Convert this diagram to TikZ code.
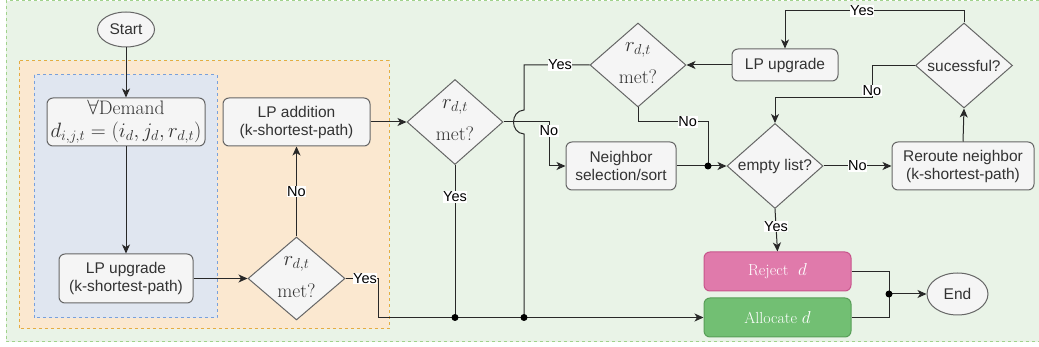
\documentclass[tikz,border=0pt]{standalone}
\usepackage{fontspec}
\newfontfamily\arialf{Liberation Sans}
\usetikzlibrary{arrows.meta,shapes.geometric}
\definecolor{bggreen}{RGB}{233,243,231}
\definecolor{bggreenline}{RGB}{160,210,140}
\definecolor{bgorange}{RGB}{251,232,208}
\definecolor{bgorangeline}{RGB}{228,172,66}
\definecolor{bgblue}{RGB}{224,230,240}
\definecolor{bgblueline}{RGB}{120,160,220}
\definecolor{boxfill}{RGB}{245,245,245}
\definecolor{boxline}{RGB}{102,102,102}
\definecolor{txt}{RGB}{51,51,51}
\definecolor{pinkfill}{RGB}{224,122,171}
\definecolor{pinkline}{RGB}{200,85,140}
\definecolor{greenfill}{RGB}{114,191,115}
\definecolor{greenline}{RGB}{88,158,88}
\definecolor{connc}{RGB}{40,40,40}
\begin{document}
\begin{tikzpicture}[x=1pt,y=-1pt,
  sfont/.style={font=\arialf\fontsize{15.5}{18}\selectfont},
  box/.style={draw=boxline, fill=boxfill, rounded corners=6pt, line width=1pt, text=txt, sfont, align=center, inner sep=0pt},
  dia/.style={draw=boxline, fill=boxfill, diamond, line width=1pt, inner sep=0pt},
  mtext/.style={font=\fontsize{19.5}{24}\selectfont, align=center, text=txt, inner sep=0pt},
  dtext/.style={sfont, text=txt, inner sep=0pt},
  ell/.style={draw=boxline, fill=boxfill, ellipse, line width=1pt, text=txt, sfont, inner sep=0pt},
  lbl/.style={fill=white, inner sep=0.6pt, font=\arialf\fontsize{14.5}{16}\selectfont, text=black},
  conn/.style={draw=connc, line width=1pt},
  arr/.style={conn, -{Stealth[length=9pt,width=8pt,inset=2.5pt]}},
  dot/.style={circle, fill=black, inner sep=0pt, minimum size=7pt},
  colbox/.style={rounded corners=6pt, line width=1pt, text=white, font=\fontsize{16}{19}\selectfont, inner sep=0pt, minimum width=147pt, minimum height=39pt},
]
\useasboundingbox (0,0) rectangle (1039,347);
% backgrounds
\fill[bggreen] (6,1) rectangle (1039,342);
\draw[bggreenline, line width=1pt, dash pattern=on 3pt off 3pt] (1039,1) -- (6,1) -- (6,342) -- (1039,342);
\draw[bgorangeline, fill=bgorange, line width=1pt, dash pattern=on 3pt off 3pt] (19,61) rectangle (389,329);
\draw[bgblueline, fill=bgblue, line width=1pt, dash pattern=on 3pt off 3pt] (34,75) rectangle (217,318);

% nodes
\node[ell, minimum width=57pt, minimum height=35pt] (start) at (126,29.5) {Start};
\node[box, font=\fontsize{19.5}{24}\selectfont, minimum width=158pt, minimum height=48pt] (demand) at (126,122) {$\forall$Demand\\[-1pt]$d_{i,j,t}=(i_d,j_d,r_{d,t})$};
\node[box, minimum width=134pt, minimum height=49pt] (lpup1) at (126,278.5) {LP upgrade\\(k-shortest-path)};
\node[box, minimum width=147pt, minimum height=48pt] (lpadd) at (296.5,122) {LP addition\\(k-shortest-path)};
\node[dia, minimum width=97pt, minimum height=83pt] (d1) at (296.5,278.5) {};
\node[mtext] (d1t) at (296.5,277) {$r_{d,t}$\\[8pt]met?};
\node[dia, minimum width=96pt, minimum height=85pt] (d2) at (455,122) {};
\node[mtext] (d2t) at (455,120.5) {$r_{d,t}$\\[8pt]met?};
\node[dia, minimum width=96pt, minimum height=84pt] (d3) at (638,65) {};
\node[mtext] (d3t) at (638,63.5) {$r_{d,t}$\\[8pt]met?};
\node[box, minimum width=110pt, minimum height=48pt] (neigh) at (621,166) {Neighbor\\selection/sort};
\node[dia, minimum width=96pt, minimum height=85pt] (empty) at (775,166) {};
\node[dtext] (emptyt) at (775,166) {empty list?};
\node[box, minimum width=142pt, minimum height=48pt] (reroute) at (963,166) {Reroute neighbor\\(k-shortest-path)};
\node[dia, minimum width=97pt, minimum height=85pt] (succ) at (964,65.5) {};
\node[dtext] (succt) at (964,65.5) {sucessful?};
\node[box, minimum width=106pt, minimum height=32pt] (lpup2) at (785,65) {LP upgrade};
\node[colbox, draw=pinkline, fill=pinkfill] (reject) at (777.5,271.5) {Reject\ \ $d$};
\node[colbox, draw=greenline, fill=greenfill] (alloc) at (777.5,317.5) {Allocate $d$};
\node[ell, minimum width=61pt, minimum height=42pt] (endn) at (957.5,294) {End};

% helper coordinates
\coordinate (b1) at (378,278.5);
\coordinate (b2) at (378,317.5);
\coordinate (dA) at (455,317.5);
\coordinate (dB) at (524,317.5);
\coordinate (c1) at (549,122);
\coordinate (c2) at (549,166);
\coordinate (c3) at (524,65);
\coordinate (h1) at (524,110);
\coordinate (h2) at (524,134);
\coordinate (c4) at (638,122);
\coordinate (c5) at (708,122);
\coordinate (dC) at (708,166);
\coordinate (c6) at (964,11);
\coordinate (c7) at (785,11);
\coordinate (c8) at (872,65.5);
\coordinate (c9) at (872,98);
\coordinate (c10) at (775,98);
\coordinate (c11) at (889,271.5);
\coordinate (c12) at (889,317.5);
\coordinate (dD) at (889,294);

% connectors
\draw[arr] (start) -- (demand);
\draw[arr] (demand) -- (lpup1);
\draw[arr] (lpup1) -- (d1);
\draw[arr] (d1) -- node[lbl] (l1) {No} (lpadd);
\draw[arr] (d1.east) -- node[lbl, pos=0.6] (l2) {Yes} (b1) -- (b2) -- (alloc.west);
\draw[arr] (lpadd) -- (d2);
\draw[conn] (d2.south) -- node[lbl, pos=0.21] (l3) {Yes} (dA);
\draw[arr] (d2.east) -- (c1) -- (c2) -- (neigh.west);
\node[lbl] (l4) at (549,131) {No};
\draw[conn] (d3.west) -- node[lbl, pos=0.45] (l5) {Yes} (c3) -- (h1) .. controls (510,111) and (510,133) .. (h2) -- (dB);
\draw[conn] (d3.south) -- (c4) -- node[lbl, pos=0.71] (l6) {No} (c5) -- (dC);
\draw[conn] (neigh.east) -- (dC);
\draw[arr] (dC) -- (empty.west);
\draw[arr] (empty.east) -- node[lbl] (l7) {No} (reroute.west);
\draw[arr] (reroute.north) -- (succ.south);
\draw[arr] (succ.north) -- (c6) -- node[lbl, pos=0.57] (l8) {Yes} (c7) -- (lpup2.north);
\draw[arr] (lpup2.west) -- (d3.east);
\draw[arr] (succ.west) -- (c8) -- node[lbl, pos=0.76] (l9) {No} (c9) -- (c10) -- (empty.north);
\draw[arr] (empty.south) -- node[lbl, pos=0.41] (l10) {Yes} (reject.north);
\draw[conn] (reject.east) -- (c11) -- (dD);
\draw[conn] (alloc.east) -- (c12) -- (dD);
\draw[arr] (dD) -- (endn.west);

% junction dots
\node[dot] (jA) at (dA) {};
\node[dot] (jB) at (dB) {};
\node[dot] (jC) at (dC) {};
\node[dot] (jD) at (dD) {};
\end{tikzpicture}
\end{document}
